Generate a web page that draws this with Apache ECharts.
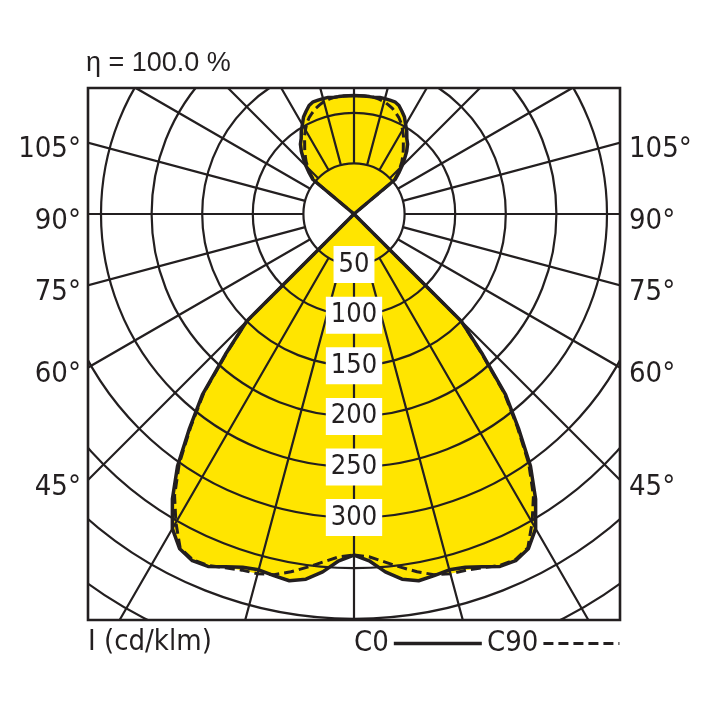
<!DOCTYPE html>
<html><head><meta charset="utf-8">
<script src="https://cdn.jsdelivr.net/npm/echarts@6/dist/echarts.min.js"></script>
<style>html,body{margin:0;padding:0;background:#fff}#c{width:708px;height:708px}</style>
</head><body><div id="c"></div>
<script>
// ---- data (gamma in degrees from nadir, intensity in cd/klm) ----
const gamma = [0, 2.5, 5, 7.5, 10, 12.5, 15, 17.5, 20, 22.5, 25, 27.5, 30, 32.5, 35, 37.5, 40, 42.5, 45, 47.5,
  90,
  127.5, 130, 132.5, 135, 137.5, 140, 142.5, 145, 147.5, 150, 152.5, 155, 157.5, 160, 162.5, 165, 167.5, 170, 172.5, 175, 177.5, 180];
const c0 = [337, 343, 355, 364, 368, 366, 364, 366, 371, 377, 378, 373, 359, 334, 304, 267, 233, 188, 150, 0,
  0,
  0, 53, 60, 67, 74, 81, 87, 91, 97, 102, 108, 112, 116, 118, 118, 118, 118, 117, 117, 117, 117, 117];
const c90 = [337, 339, 345, 352, 359, 365, 368, 369, 372, 376, 377, 372, 352, 330, 301, 265, 231, 186, 150, 0,
  0,
  0, 52, 58, 64, 70, 75, 80, 85, 91, 96, 101, 105, 108, 111, 113, 115, 116, 117, 117, 117, 117, 117];
const ringLabels = [50, 100, 150, 200, 250, 300];
const angleLabels = [45, 60, 75, 90, 105];
const titleText = 'η = 100.0 %';
const unitText = 'I (cd/klm)';
const seriesNames = ['C0', 'C90'];

// ---- layout / style ----
const CX = 354, CY = 214, RMAX = 500, RPX = 506;
const BOX = {l: 88, t: 88, r: 620, b: 620};
const INK = '#231f20', YEL = '#ffe500';
const NARROW = "'Liberation Sans Narrow','Arial Narrow','DejaVu Sans Condensed',sans-serif";
const REG = "'Liberation Sans',Arial,sans-serif";
const SOLID = {color: INK, width: 3.5, join: 'round'};
const DASHED = {color: INK, width: 3, type: [10, 5], join: 'round'};

// both half planes are symmetric
function fullCircle(vals) {
  const out = [];
  for (let i = 0; i < gamma.length; i++) out.push([vals[i], gamma[i]]);
  for (let i = gamma.length - 2; i >= 0; i--) out.push([vals[i], 360 - gamma[i]]);
  return out;
}

const chart = echarts.init(document.getElementById('c'), null, {renderer: 'canvas'});

const graphics = [
  {type: 'rect', shape: {x: 0, y: 0, width: 708, height: BOX.t}, style: {fill: '#fff'}, z: 50, silent: true},
  {type: 'rect', shape: {x: 0, y: BOX.b, width: 708, height: 708 - BOX.b}, style: {fill: '#fff'}, z: 50, silent: true},
  {type: 'rect', shape: {x: 0, y: 0, width: BOX.l, height: 708}, style: {fill: '#fff'}, z: 50, silent: true},
  {type: 'rect', shape: {x: BOX.r, y: 0, width: 708 - BOX.r, height: 708}, style: {fill: '#fff'}, z: 50, silent: true},
  {type: 'rect', shape: {x: BOX.l, y: BOX.t, width: BOX.r - BOX.l, height: BOX.b - BOX.t},
    style: {fill: 'none', stroke: INK, lineWidth: 2.6}, z: 60, silent: true},
  {type: 'text', x: BOX.l - 2, y: 64, z: 70, style: {text: titleText, fontFamily: REG, fontSize: 27, fill: INK, textAlign: 'left', textVerticalAlign: 'middle'}},
  {type: 'text', x: BOX.l, y: 642, z: 70, style: {text: unitText, fontFamily: NARROW, fontSize: 29, fill: INK, textAlign: 'left', textVerticalAlign: 'middle'}}
];
angleLabels.forEach(a => {
  const t = Math.tan(a * Math.PI / 180);
  const y = CY + (Math.abs(t) > 1e6 ? 0 : (CX - BOX.l) / t) + 7;
  graphics.push({type: 'text', x: BOX.l - 7, y: y, z: 70,
    style: {text: a + '°', fontFamily: NARROW, fontSize: 29, fill: INK, textAlign: 'right', textVerticalAlign: 'middle'}});
  graphics.push({type: 'text', x: BOX.r + 9, y: y, z: 70,
    style: {text: a + '°', fontFamily: NARROW, fontSize: 29, fill: INK, textAlign: 'left', textVerticalAlign: 'middle'}});
});

const legendCommon = {top: 624, itemHeight: 20, align: 'right', z: 100,
  itemStyle: {color: 'rgba(0,0,0,0)', borderColor: 'rgba(0,0,0,0)', borderWidth: 0},
  textStyle: {fontFamily: NARROW, fontSize: 29, color: INK}};

const option = {
  animation: false,
  backgroundColor: '#fff',
  polar: [
    {center: [CX, CY], radius: RPX},
    {center: [CX, CY], radius: [RPX * 50 / RMAX, RPX]}
  ],
  angleAxis: [
    {polarIndex: 0, type: 'value', min: 0, max: 360, startAngle: 270, clockwise: false, show: false},
    {polarIndex: 1, type: 'value', min: 0, max: 360, interval: 15, startAngle: 270, clockwise: false, z: 3,
      axisLine: {show: false}, axisTick: {show: false}, axisLabel: {show: false},
      splitLine: {show: true, lineStyle: {color: INK, width: 2.2}}}
  ],
  radiusAxis: [
    {polarIndex: 0, type: 'value', min: 0, max: RMAX, show: false},
    {polarIndex: 1, type: 'value', min: 50, max: RMAX, interval: 50, z: 3,
      axisLine: {show: false}, axisTick: {show: false}, axisLabel: {show: false},
      splitLine: {show: true, lineStyle: {color: INK, width: 2.2}}}
  ],
  legend: [
    Object.assign({data: [seriesNames[0]], left: 349, itemWidth: 88, lineStyle: SOLID}, legendCommon),
    Object.assign({data: [seriesNames[1]], left: 482, itemWidth: 76, lineStyle: DASHED}, legendCommon)
  ],
  graphic: graphics,
  series: [
    {type: 'line', name: 'C0 area', coordinateSystem: 'polar', polarIndex: 0, data: fullCircle(c0),
      symbol: 'none', lineStyle: {opacity: 0, width: 0}, areaStyle: {color: YEL, opacity: 1}, z: 1, silent: true},
    {type: 'line', name: 'C90 area', coordinateSystem: 'polar', polarIndex: 0, data: fullCircle(c90),
      symbol: 'none', lineStyle: {opacity: 0, width: 0}, areaStyle: {color: YEL, opacity: 1}, z: 1, silent: true},
    {type: 'line', name: seriesNames[1], coordinateSystem: 'polar', polarIndex: 0, data: fullCircle(c90), color: INK,
      symbol: 'none', lineStyle: DASHED, z: 4},
    {type: 'line', name: seriesNames[0], coordinateSystem: 'polar', polarIndex: 0, data: fullCircle(c0), color: INK,
      symbol: 'none', lineStyle: SOLID, z: 5},
    {type: 'scatter', name: 'rings', coordinateSystem: 'polar', polarIndex: 0,
      data: ringLabels.map(v => [v, 0]), symbol: 'rect', symbolSize: 1,
      itemStyle: {color: 'rgba(0,0,0,0)', opacity: 1}, z: 6,
      label: {show: true, position: 'inside', formatter: p => String(p.value[0]), fontFamily: NARROW, fontSize: 27,
        color: INK, backgroundColor: '#ffffff', opacity: 1, padding: [5, 5, 4, 5], lineHeight: 28}}
  ]
};
chart.setOption(option);
</script></body></html>
